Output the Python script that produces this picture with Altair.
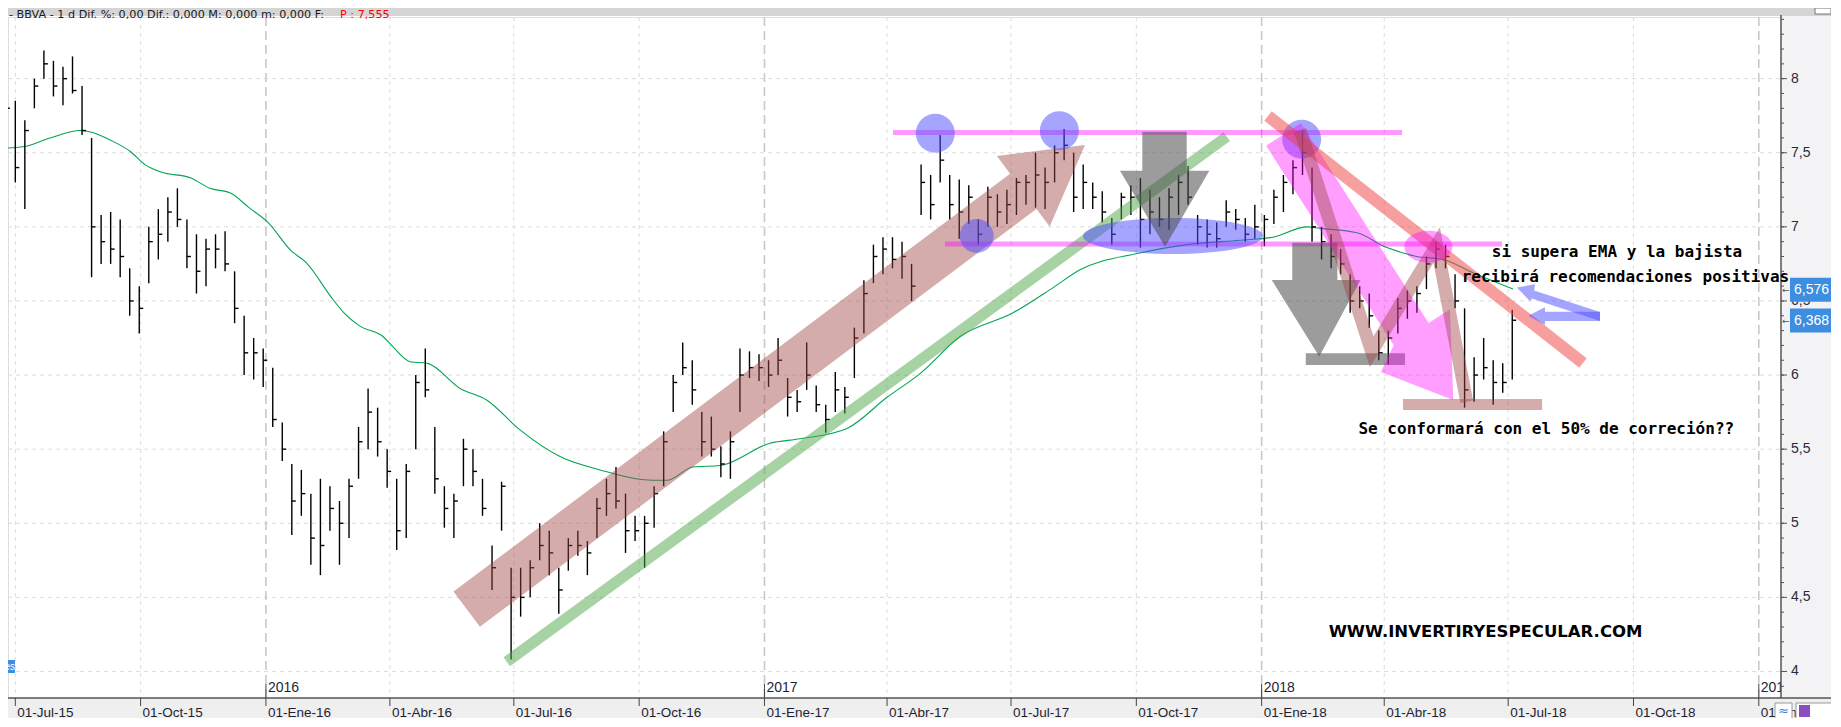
import altair as alt
import pandas as pd

# ---------------------------------------------------------------- data
ORIGIN = pd.Timestamp("2015-07-01")


def days_to_dates(days):
    return [ORIGIN + pd.Timedelta(days=float(d)) for d in days]


# weekly OHLC-style bars (high / low / close)
week_start = "2015-06-24"
high = [8.12, 7.85, 7.72, 8.00, 8.19, 8.12, 8.08, 8.15, 7.95, 7.60,
        7.08, 7.10, 7.05, 6.72, 6.60, 7.00, 7.12, 7.20, 7.26, 7.05,
        6.95, 6.92, 6.95, 6.97, 6.70, 6.40, 6.25, 6.18, 6.05, 5.68,
        5.40, 5.36, 5.20, 5.30, 5.25, 5.15, 5.30, 5.65, 5.91, 5.78,
        5.50, 5.30, 5.40, 6.00, 6.18, 5.65, 5.25, 5.20, 5.57, 5.50,
        5.30, 4.85, 5.28, 4.70, 4.70, 4.75, 5.00, 4.95, 4.70, 4.90,
        4.95, 4.88, 5.17, 5.30, 5.38, 5.20, 5.05, 5.05, 5.25, 5.62,
        6.00, 6.22, 6.10, 5.75, 5.72, 5.52, 5.62, 6.18, 6.16, 6.14,
        6.10, 6.25, 5.98, 5.90, 6.22, 5.93, 5.80, 6.02, 5.92, 6.32,
        6.64, 6.88, 6.93, 6.93, 6.90, 6.75, 7.42, 7.35, 7.62, 7.35,
        7.32, 7.28, 7.05, 7.27, 7.22, 7.25, 7.33, 7.35, 7.50, 7.40,
        7.55, 7.66, 7.50, 7.42, 7.30, 7.24, 7.06, 7.23, 7.28, 7.33,
        7.25, 7.20, 7.26, 7.35, 7.41, 7.08, 7.05, 7.03, 7.18, 7.12,
        7.06, 7.15, 7.08, 7.25, 7.35, 7.45, 7.65, 7.40, 7.00, 6.95,
        6.85, 6.68, 6.60, 6.55, 6.30, 6.30, 6.52, 6.57, 6.60, 6.80,
        6.90, 6.88, 6.68, 6.45, 6.12, 6.25, 6.10, 6.08, 6.44]
low = [7.75, 7.30, 7.12, 7.80, 8.00, 7.88, 7.82, 7.90, 7.62, 6.66,
       6.75, 6.75, 6.66, 6.40, 6.28, 6.62, 6.78, 6.90, 7.00, 6.72,
       6.55, 6.60, 6.72, 6.70, 6.35, 6.00, 5.97, 5.92, 5.65, 5.42,
       4.92, 5.05, 4.72, 4.65, 4.95, 4.72, 4.90, 5.30, 5.50, 5.45,
       5.24, 4.82, 4.90, 5.50, 5.85, 5.20, 4.97, 4.90, 5.25, 5.25,
       5.05, 4.55, 4.95, 4.08, 4.37, 4.50, 4.75, 4.65, 4.39, 4.68,
       4.78, 4.65, 4.90, 5.05, 5.10, 4.80, 4.88, 4.70, 4.97, 5.25,
       5.75, 6.00, 5.80, 5.45, 5.45, 5.31, 5.30, 5.75, 5.98, 5.96,
       5.92, 6.00, 5.72, 5.75, 5.90, 5.75, 5.61, 5.75, 5.74, 5.98,
       6.28, 6.62, 6.68, 6.72, 6.65, 6.50, 7.08, 7.05, 7.30, 7.05,
       6.92, 7.02, 6.88, 7.00, 7.00, 7.02, 7.08, 7.15, 7.13, 7.12,
       7.30, 7.45, 7.10, 7.12, 7.12, 7.03, 6.88, 7.05, 7.08, 6.86,
       6.95, 7.00, 6.98, 7.08, 7.15, 6.88, 6.86, 6.86, 7.00, 6.98,
       6.90, 6.92, 6.87, 7.02, 7.10, 7.22, 7.35, 6.90, 6.78, 6.72,
       6.68, 6.42, 6.45, 6.32, 6.10, 6.07, 6.28, 6.38, 6.42, 6.58,
       6.72, 6.72, 6.45, 5.78, 5.82, 5.97, 5.80, 5.88, 5.97]
close = [7.80, 7.40, 7.65, 7.95, 8.10, 7.95, 8.00, 7.92, 7.65, 7.00,
         6.90, 6.85, 6.80, 6.50, 6.45, 6.90, 6.95, 7.10, 7.05, 6.80,
         6.70, 6.85, 6.85, 6.75, 6.45, 6.15, 6.15, 6.10, 5.70, 5.50,
         5.15, 5.20, 4.90, 4.85, 5.10, 5.00, 5.25, 5.55, 5.75, 5.55,
         5.35, 4.95, 5.35, 5.95, 5.90, 5.30, 5.10, 5.15, 5.50, 5.35,
         5.10, 4.70, 5.25, 4.50, 4.50, 4.70, 4.85, 4.80, 4.55, 4.85,
         4.85, 4.80, 5.10, 5.20, 5.15, 4.95, 4.95, 5.00, 5.20, 5.55,
         5.95, 6.05, 5.90, 5.55, 5.50, 5.40, 5.55, 6.00, 6.05, 6.05,
         6.00, 6.10, 5.85, 5.82, 6.00, 5.80, 5.70, 5.90, 5.85, 6.25,
         6.55, 6.80, 6.85, 6.78, 6.80, 6.60, 7.30, 7.15, 7.45, 7.15,
         7.10, 7.20, 6.95, 7.20, 7.10, 7.15, 7.30, 7.30, 7.35, 7.30,
         7.50, 7.55, 7.20, 7.30, 7.20, 7.10, 6.95, 7.20, 7.20, 7.05,
         7.10, 7.05, 7.20, 7.30, 7.20, 7.00, 6.95, 6.92, 7.10, 7.05,
         6.95, 7.00, 7.05, 7.20, 7.30, 7.40, 7.50, 7.00, 6.90, 6.80,
         6.75, 6.50, 6.50, 6.40, 6.15, 6.25, 6.45, 6.50, 6.55, 6.75,
         6.85, 6.80, 6.50, 5.90, 6.00, 6.05, 5.95, 5.95, 6.37]

# moving average (green line): days after 2015-07-01, value
ema_days = [-11.2, 5.7, 25.5, 47.5, 73.2, 84.2, 95.2, 107, 129, 142.9,
            157.6, 171.6, 185.5, 202.4, 213.4, 233.2, 241.3, 253, 269.9, 277.3,
            289.8, 302.2, 326.5, 346.3, 370.5, 399.9, 429.3, 468.2, 478.4, 497.5,
            517.4, 554.1, 576.1, 610.6, 640, 664.2, 693.6, 732.5, 761.9, 781.7,
            823.5, 860.2, 899.1, 923.3, 948.3, 957.9, 985, 1007, 1029, 1048.2,
            1070.2, 1099.6]
ema_values = [7.53, 7.54, 7.60, 7.65, 7.57, 7.51, 7.42, 7.37, 7.33, 7.26,
              7.23, 7.13, 7.03, 6.84, 6.76, 6.51, 6.42, 6.33, 6.26, 6.19,
              6.09, 6.08, 5.91, 5.83, 5.63, 5.45, 5.36, 5.29, 5.29, 5.38,
              5.39, 5.54, 5.57, 5.64, 5.85, 6.01, 6.26, 6.42, 6.59, 6.71,
              6.82, 6.88, 6.91, 6.93, 7.00, 6.99, 6.96, 6.86, 6.80, 6.78,
              6.69, 6.58]

# axis texts
quarter_dates = ["2015-07-01", "2015-10-01", "2016-01-01", "2016-04-01", "2016-07-01",
                 "2016-10-01", "2017-01-01", "2017-04-01", "2017-07-01", "2017-10-01",
                 "2018-01-01", "2018-04-01", "2018-07-01", "2018-10-01", "2019-01-01"]
quarter_labels = ["01-Jul-15", "01-Oct-15", "01-Ene-16", "01-Abr-16", "01-Jul-16",
                  "01-Oct-16", "01-Ene-17", "01-Abr-17", "01-Jul-17", "01-Oct-17",
                  "01-Ene-18", "01-Abr-18", "01-Jul-18", "01-Oct-18", "01-Ene-19"]
year_dates = ["2016-01-01", "2017-01-01", "2018-01-01", "2019-01-01"]
year_labels = ["2016", "2017", "2018", "2019"]
ytick_values = [4.0, 4.5, 5.0, 5.5, 6.0, 6.5, 7.0, 7.5, 8.0]
ytick_labels = ["4", "4,5", "5", "5,5", "6", "6,5", "7", "7,5", "8"]
yminor_values = [round(3.9 + 0.1 * i, 1) for i in range(46)]
last_values = [6.576, 6.368]
last_labels = ["6,576", "6,368"]
header_text = "- BBVA -  1 d Dif. %: 0,00 Dif.: 0,000 M: 0,000 m: 0,000 F:"
header_price = "P : 7,555"

# annotations drawn on the chart (days after 2015-07-01, price)
brown_arrow_days = [321.7, 730.3, 720.7, 785.3, 759.4, 749.7, 341.1]
brown_arrow_prices = [4.539, 7.359, 7.478, 7.553, 7.003, 7.121, 4.302]
pink_arrow_days = [918.3, 1012.0, 1002.6, 1055.7, 1053.3, 1037.6, 943.8]
pink_arrow_prices = [7.548, 6.201, 6.021, 5.832, 6.444, 6.352, 7.699]
grey_a_days = [827.4, 860.0, 860.0, 876.6, 844.1, 811.0, 827.4]
grey_a_prices = [7.642, 7.642, 7.379, 7.379, 6.866, 7.379, 7.379]
grey_b_days = [937.5, 970.6, 970.6, 987.6, 957.3, 922.4, 937.5]
grey_b_prices = [6.893, 6.893, 6.642, 6.642, 6.126, 6.642, 6.642]
blue_up_days = [1102.3, 1115.7, 1115.0, 1163.4, 1163.4, 1113.5, 1112.0]
blue_up_prices = [6.590, 6.613, 6.571, 6.426, 6.365, 6.517, 6.500]
blue_lo_days = [1110.8, 1123.0, 1123.0, 1163.4, 1163.4, 1123.0, 1123.0]
blue_lo_prices = [6.401, 6.457, 6.428, 6.428, 6.365, 6.365, 6.338]
green_line = dict(d1=[360.8], p1=[4.066], d2=[889.4], p2=[7.609])
red_line = dict(d1=[919.7], p1=[7.748], d2=[1150.9], p2=[6.082])
zigzag_days = [943.2, 995.8, 1043.5, 1065.6]
zigzag_prices = [7.654, 6.158, 6.878, 5.820]
pink_lines = dict(d1=[644.4, 682.5], d2=[1018.1, 1091.5], p=[7.636, 6.885])
grey_bar = dict(d1=[947.4], d2=[1020.3], p1=[6.068], p2=[6.147])
brown_bar = dict(d1=[1018.8], d2=[1120.9], p1=[5.764], p2=[5.839])
blue_circle_days = [675.4, 766.5, 944.4]
blue_circle_prices = [7.632, 7.649, 7.591]
small_circle_days = [705.8]
small_circle_prices = [6.939]
blue_ellipse = dict(d=[849.9], p=[6.939])
pink_ellipse = dict(d=[1037.4], p=[6.866])
notes = ["si supera EMA y la bajista", "recibirá recomendaciones positivas",
         "Se conformará con el 50% de correción??"]
notes_days = [1175.9, 1182.1, 1124.0]
notes_prices = [6.827, 6.665, 5.636]
site = ["WWW.INVERTIRYESPECULAR.COM"]
site_days = [1079.4]
site_prices = [4.266]

# ---------------------------------------------------------------- scales
W, H = 1773, 681
x_left_day, x_right_day = -5.36, 1296.3
y_min, y_max = 3.821, 8.416


def dt(ts):
    return alt.DateTime(year=ts.year, month=ts.month, date=ts.day,
                        hours=ts.hour, minutes=ts.minute)


left_ts, right_ts = days_to_dates([x_left_day, x_right_day])
xscale = alt.Scale(type="time", domain=[dt(left_ts), dt(right_ts)], nice=False)
yscale = alt.Scale(domain=[y_min, y_max], nice=False, zero=False)


def X(f):
    return alt.X(f, type="temporal", scale=xscale, axis=None)


def Y(f):
    return alt.Y(f, type="quantitative", scale=yscale, axis=None)


one = pd.DataFrame({"a": [0]})

# ---------------------------------------------------------------- frames
bars = pd.DataFrame({"date": pd.date_range(week_start, periods=len(high), freq="7D"),
                     "high": high, "low": low, "close": close})
ema = pd.DataFrame({"date": days_to_dates(ema_days), "ema": ema_values})
qdf = pd.DataFrame({"date": pd.to_datetime(quarter_dates), "label": quarter_labels})
ydf = pd.DataFrame({"date": pd.to_datetime(year_dates), "label": year_labels})
qonly = qdf[~qdf["date"].isin(pd.to_datetime(year_dates))]
hgrid = pd.DataFrame({"p": ytick_values, "label": ytick_labels})
minor = pd.DataFrame({"p": yminor_values})
lastdf = pd.DataFrame({"p": last_values, "label": last_labels})


def poly_df(days, prices):
    return pd.DataFrame({"date": days_to_dates(days), "price": prices,
                         "i": list(range(len(days)))})


def seg_df(d):
    out = pd.DataFrame(d)
    for c in ("d1", "d2", "d"):
        if c in out:
            out[c] = days_to_dates(out[c])
    return out


def polygon(df, color, opacity):
    return alt.Chart(df).mark_line(fill=color, fillOpacity=opacity, stroke=color,
                                   strokeOpacity=0, strokeWidth=0).encode(
        x=X("date"), y=Y("price"), order="i:Q")


def ellipse_path(k):
    c = 0.5523
    return (f"M -1 0 C -1 {-c*k:.4f} {-c:.4f} {-k:.4f} 0 {-k:.4f} "
            f"C {c:.4f} {-k:.4f} 1 {-c*k:.4f} 1 0 "
            f"C 1 {c*k:.4f} {c:.4f} {k:.4f} 0 {k:.4f} "
            f"C {-c:.4f} {k:.4f} -1 {c*k:.4f} -1 0 Z")


BROWN, BROWN_A = "#a04848", 0.45
PINK, PINK_A = "#ff00ff", 0.38
BLUE, BLUE_A = "#4b4bff", 0.5
GREY, GREY_A = "#4a4a4a", 0.55
FONT = "Liberation Sans"

layers = []

# grid
layers.append(alt.Chart(hgrid).mark_rule(color="#dcdcdc", strokeDash=[4, 4], strokeWidth=1).encode(
    y=Y("p"), x=alt.value(0), x2=alt.value(W)))
layers.append(alt.Chart(qonly).mark_rule(color="#dcdcdc", strokeDash=[4, 4], strokeWidth=1).encode(
    x=X("date"), y=alt.value(0), y2=alt.value(H)))
layers.append(alt.Chart(ydf).mark_rule(color="#c9c9c9", strokeDash=[9, 5], strokeWidth=1.6).encode(
    x=X("date"), y=alt.value(0), y2=alt.value(H)))

# moving average
layers.append(alt.Chart(ema).mark_line(color="#00a651", strokeWidth=1.1, interpolate="monotone").encode(
    x=X("date"), y=Y("ema")))

# price bars
layers.append(alt.Chart(bars).mark_rule(color="black", strokeWidth=1.4).encode(
    x=X("date"), y=Y("low"), y2=alt.Y2("high")))
layers.append(alt.Chart(bars).mark_rule(color="black", strokeWidth=1.4, x2Offset=4).encode(
    x=X("date"), x2=alt.X2("date"), y=Y("close")))

# annotations
layers.append(alt.Chart(seg_df(green_line)).mark_rule(color="#4fa84a", opacity=0.5, strokeWidth=11,
                                                       strokeCap="butt").encode(
    x=X("d1"), x2=alt.X2("d2"), y=Y("p1"), y2=alt.Y2("p2")))
layers.append(polygon(poly_df(brown_arrow_days, brown_arrow_prices), BROWN, BROWN_A))
layers.append(alt.Chart(seg_df(pink_lines)).mark_rule(color=PINK, opacity=0.4, strokeWidth=5,
                                                       strokeCap="butt").encode(
    x=X("d1"), x2=alt.X2("d2"), y=Y("p")))
circ = pd.DataFrame({"date": days_to_dates(blue_circle_days), "price": blue_circle_prices})
layers.append(alt.Chart(circ).mark_point(shape="circle", filled=True, color=BLUE, opacity=BLUE_A,
                                         size=1521, strokeWidth=0).encode(x=X("date"), y=Y("price")))
circ2 = pd.DataFrame({"date": days_to_dates(small_circle_days), "price": small_circle_prices})
layers.append(alt.Chart(circ2).mark_point(shape="circle", filled=True, color=BLUE, opacity=BLUE_A,
                                          size=1156, strokeWidth=0).encode(x=X("date"), y=Y("price")))
layers.append(alt.Chart(seg_df(blue_ellipse)).mark_point(shape=ellipse_path(0.2), filled=True, color=BLUE,
                                                         opacity=BLUE_A, size=32400, strokeWidth=0).encode(
    x=X("d"), y=Y("p")))
layers.append(polygon(poly_df(grey_a_days, grey_a_prices), GREY, GREY_A))
layers.append(polygon(poly_df(grey_b_days, grey_b_prices), GREY, GREY_A))
layers.append(alt.Chart(seg_df(grey_bar)).mark_rect(color=GREY, opacity=GREY_A).encode(
    x=X("d1"), x2=alt.X2("d2"), y=Y("p1"), y2=alt.Y2("p2")))
layers.append(polygon(poly_df(pink_arrow_days, pink_arrow_prices), PINK, PINK_A))
layers.append(alt.Chart(seg_df(red_line)).mark_rule(color="#f04040", opacity=0.5, strokeWidth=12,
                                                     strokeCap="butt").encode(
    x=X("d1"), x2=alt.X2("d2"), y=Y("p1"), y2=alt.Y2("p2")))
zz = pd.DataFrame({"date": days_to_dates(zigzag_days), "price": zigzag_prices,
                   "i": list(range(len(zigzag_days)))})
layers.append(alt.Chart(zz).mark_line(color=BROWN, strokeOpacity=BROWN_A, strokeWidth=13,
                                      strokeJoin="miter", strokeCap="butt").encode(
    x=X("date"), y=Y("price"), order="i:Q"))
layers.append(alt.Chart(seg_df(brown_bar)).mark_rect(color=BROWN, opacity=BROWN_A).encode(
    x=X("d1"), x2=alt.X2("d2"), y=Y("p1"), y2=alt.Y2("p2")))
layers.append(alt.Chart(seg_df(pink_ellipse)).mark_point(shape=ellipse_path(0.667), filled=True, color=PINK,
                                                         opacity=PINK_A, size=2304, strokeWidth=0).encode(
    x=X("d"), y=Y("p")))
layers.append(polygon(poly_df(blue_up_days, blue_up_prices), BLUE, BLUE_A))
layers.append(polygon(poly_df(blue_lo_days, blue_lo_prices), BLUE, BLUE_A))

# year markers inside the plot
layers.append(alt.Chart(ydf).mark_rule(color="#444444", strokeWidth=1).encode(
    x=X("date"), y=alt.value(H - 14), y2=alt.value(H)))
layers.append(alt.Chart(ydf).mark_text(font=FONT, fontSize=14, color="#1f1f33", align="left",
                                       baseline="middle", dx=2).encode(
    x=X("date"), y=alt.value(H - 10), text="label:N"))

# frame: bottom strip, right axis panel, header
layers.append(alt.Chart(one).mark_rect(color="#efefef").encode(
    x=alt.value(0), x2=alt.value(W + 60), y=alt.value(H), y2=alt.value(H + 30)))
layers.append(alt.Chart(one).mark_rect(color="#f3f3f5").encode(
    x=alt.value(W), x2=alt.value(W + 60), y=alt.value(-2), y2=alt.value(H)))
layers.append(alt.Chart(one).mark_rect(color="#d5d5d5").encode(
    x=alt.value(0), x2=alt.value(W + 60), y=alt.value(-10), y2=alt.value(-1)))
layers.append(alt.Chart(pd.DataFrame({"t": [header_text]})).mark_text(
    font="DejaVu Sans", fontSize=11.2, color="#1a1a1a", align="left", baseline="middle").encode(
    x=alt.value(1), y=alt.value(-2.5), text="t:N"))
layers.append(alt.Chart(pd.DataFrame({"t": [header_price]})).mark_text(
    font="DejaVu Sans", fontSize=11.2, color="#ff0000", align="left", baseline="middle").encode(
    x=alt.value(332), y=alt.value(-2.5), text="t:N"))

# x axis
layers.append(alt.Chart(one).mark_rule(color="#555555", strokeWidth=1.5).encode(
    x=alt.value(0), x2=alt.value(W + 60), y=alt.value(H)))
layers.append(alt.Chart(qdf).mark_rule(color="#444444", strokeWidth=1).encode(
    x=X("date"), y=alt.value(H), y2=alt.value(H + 8)))
layers.append(alt.Chart(qdf).mark_text(font=FONT, fontSize=13.5, color="#1f1f33", align="left",
                                       baseline="middle", dx=2).encode(
    x=X("date"), y=alt.value(H + 14.5), text="label:N"))

# y axis (right)
layers.append(alt.Chart(one).mark_rule(color="#555555", strokeWidth=1.5).encode(
    x=alt.value(W), y=alt.value(-2), y2=alt.value(H)))
layers.append(alt.Chart(minor).mark_rule(color="#555555", strokeWidth=1).encode(
    y=Y("p"), x=alt.value(W), x2=alt.value(W + 3)))
layers.append(alt.Chart(hgrid).mark_rule(color="#555555", strokeWidth=1).encode(
    y=Y("p"), x=alt.value(W), x2=alt.value(W + 6)))
layers.append(alt.Chart(hgrid).mark_text(font=FONT, fontSize=14, color="#2a2a3a", align="left",
                                         baseline="middle").encode(
    y=Y("p"), x=alt.value(W + 10), text="label:N"))

# last value boxes
layers.append(alt.Chart(lastdf).mark_rect(color="#3d8ee0", yOffset=-12, y2Offset=12).encode(
    y=Y("p"), y2=alt.Y2("p"), x=alt.value(W + 9), x2=alt.value(W + 60)))
layers.append(alt.Chart(lastdf).mark_text(font=FONT, fontSize=14, color="white", align="left",
                                          baseline="middle").encode(
    y=Y("p"), x=alt.value(W + 13), text="label:N"))
layers.append(alt.Chart(lastdf).mark_text(font="DejaVu Sans", fontSize=9, color="#555555", align="left",
                                          baseline="middle", text="←").encode(
    y=Y("p"), x=alt.value(W + 1)))

# annotation texts
notes_df = pd.DataFrame({"date": days_to_dates(notes_days), "price": notes_prices, "t": notes})
layers.append(alt.Chart(notes_df).mark_text(font="DejaVu Sans Mono", fontWeight="bold", fontSize=16,
                                            color="black", align="center", baseline="middle").encode(
    x=X("date"), y=Y("price"), text="t:N"))
site_df = pd.DataFrame({"date": days_to_dates(site_days), "price": site_prices, "t": site})
layers.append(alt.Chart(site_df).mark_text(font="DejaVu Sans", fontWeight="bold", fontSize=16.5,
                                           color="black", align="center", baseline="middle").encode(
    x=X("date"), y=Y("price"), text="t:N"))

# little widgets
layers.append(alt.Chart(one).mark_rect(color="#3d8ee0").encode(
    x=alt.value(0), x2=alt.value(7), y=alt.value(643), y2=alt.value(656)))
layers.append(alt.Chart(pd.DataFrame({"t": ["nes"]})).mark_text(
    font=FONT, fontSize=10, color="white", align="right", baseline="middle").encode(
    x=alt.value(7), y=alt.value(649.5), text="t:N"))
layers.append(alt.Chart(one).mark_rect(color="white", stroke="#9a9a9a", strokeWidth=1).encode(
    x=alt.value(W - 6), x2=alt.value(W + 11), y=alt.value(H + 5), y2=alt.value(H + 21)))
layers.append(alt.Chart(pd.DataFrame({"t": ["≈"]})).mark_text(
    font="DejaVu Sans", fontSize=13, color="#4a7fd0", align="center", baseline="middle").encode(
    x=alt.value(W + 2.5), y=alt.value(H + 13), text="t:N"))
layers.append(alt.Chart(one).mark_rect(color="white", stroke="#9a9a9a", strokeWidth=1).encode(
    x=alt.value(W + 15), x2=alt.value(W + 51), y=alt.value(H + 5), y2=alt.value(H + 21)))
layers.append(alt.Chart(one).mark_rect(color="#8a4fbf").encode(
    x=alt.value(W + 18), x2=alt.value(W + 29), y=alt.value(H + 7), y2=alt.value(H + 19)))
layers.append(alt.Chart(one).mark_rect(color="white", stroke="#777777", strokeWidth=1).encode(
    x=alt.value(W + 34), x2=alt.value(W + 50), y=alt.value(-9), y2=alt.value(-3)))

chart = alt.layer(*layers).properties(
    width=W, height=H,
    autosize=alt.AutoSizeParams(type="none"),
    padding={"left": 0, "top": 9, "right": 50, "bottom": 20},
).configure_view(strokeWidth=0).configure(background="white")

chart.save("out.html", embed_options={"renderer": "svg", "actions": False})
